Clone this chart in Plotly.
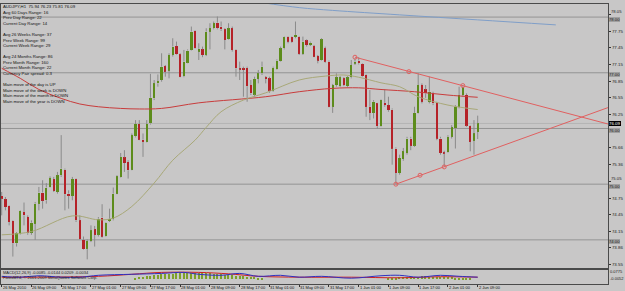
import plotly.graph_objects as go

# ---------------- DATA ----------------
opens = [74.79,74.73,74.61,74.34,73.94,74.10,74.50,74.41,74.13,74.29,74.65,74.85,74.71,74.95,75.09,74.86,75.16,75.26,74.83,74.79,
         75.09,74.35,74.00,73.84,73.98,74.19,74.09,74.40,74.07,74.34,74.37,74.83,75.13,75.48,75.40,75.26,75.86,76.08,75.80,75.76,
         76.09,76.54,76.81,76.87,77.12,77.04,77.32,77.48,77.33,76.94,77.18,77.41,77.75,77.38,77.42,77.32,77.74,77.80,77.90,77.83,
         77.78,77.60,77.80,77.41,77.08,77.08,77.09,76.78,76.61,76.89,76.99,76.92,76.90,76.68,77.06,77.21,77.44,77.65,77.64,77.64,
         77.65,77.34,77.58,77.50,77.48,77.30,77.23,77.44,77.20,76.39,76.78,76.76,76.90,76.76,76.92,77.17,77.22,77.16,76.96,76.39,
         76.28,76.45,76.04,76.46,76.42,76.34,75.64,75.20,75.45,75.56,75.82,75.69,76.28,76.78,76.70,76.48,76.63,76.46,75.82,75.57,
         75.57,75.85,76.00,76.39,76.60,76.60,76.05,75.78,75.94]
highs = [74.86,74.77,74.62,74.35,74.14,74.53,74.67,74.44,74.35,74.68,74.95,75.07,75.02,75.14,75.13,75.22,75.88,75.28,74.89,75.13,
         75.10,74.44,74.06,74.01,74.26,74.25,74.41,74.64,74.32,74.56,74.94,75.16,75.56,75.61,75.43,75.91,76.15,76.15,75.91,76.15,
         76.98,76.87,76.97,77.35,77.14,77.35,77.62,77.56,77.35,77.41,77.42,77.83,77.76,77.53,77.47,77.80,77.89,77.92,78.01,77.92,
         77.80,77.89,77.83,77.42,77.20,77.11,77.11,76.87,76.93,77.05,77.20,76.94,76.93,77.11,77.24,77.47,77.65,77.66,77.65,77.92,
         77.66,77.65,77.60,77.56,77.50,77.32,77.62,77.47,77.22,76.80,76.99,76.94,76.92,76.94,77.23,77.26,77.28,77.17,76.97,76.69,
         76.51,76.46,76.52,76.70,76.57,76.36,75.66,75.53,75.65,75.85,75.85,76.39,76.99,76.81,76.78,76.93,76.66,76.48,75.85,75.60,
         75.88,76.06,76.42,76.75,76.78,76.63,76.06,76.15,76.23]
lows = [74.44,74.53,74.26,73.70,73.88,74.09,74.26,74.09,74.09,74.00,74.53,74.56,74.65,74.94,74.86,74.83,75.13,74.53,74.56,74.71,
        74.32,74.00,73.82,73.65,73.96,73.88,74.06,74.04,74.06,74.32,74.35,74.82,75.12,75.22,75.10,75.25,75.84,75.79,75.49,75.75,
        76.07,76.51,76.75,76.84,76.93,76.90,77.29,77.32,76.92,76.92,77.17,77.40,77.43,77.23,77.28,77.30,77.42,77.78,77.78,77.75,
        77.42,77.59,77.38,76.93,76.87,76.57,76.48,76.60,76.57,76.81,76.96,76.81,76.64,76.66,77.05,77.20,77.42,77.53,77.54,77.62,
        77.32,77.32,77.47,77.48,77.28,77.17,77.22,77.18,76.38,76.28,76.75,76.74,76.76,76.74,76.90,77.14,77.15,76.93,76.21,76.15,
        76.18,76.00,76.03,76.39,76.30,75.35,75.00,75.17,75.42,75.53,75.61,75.67,76.27,76.45,76.55,76.45,76.42,75.79,75.53,75.32,
        75.56,75.82,75.64,76.36,76.57,76.03,75.59,75.53,75.81]
closes = [74.74,74.59,74.32,73.94,74.12,74.52,74.44,74.12,74.31,74.65,74.85,74.70,74.94,75.11,74.88,75.16,75.28,74.82,74.79,75.09,
          74.35,74.01,73.83,73.98,74.17,74.09,74.38,74.06,74.31,74.38,74.83,75.14,75.49,75.38,75.25,75.88,76.08,75.80,75.76,76.08,
          76.55,76.81,76.85,77.11,77.02,77.32,77.47,77.33,76.93,77.20,77.40,77.74,77.44,77.43,77.32,77.74,77.80,77.89,77.80,77.78,
          77.59,77.80,77.41,77.08,77.06,77.05,76.76,76.63,76.89,76.99,77.11,76.89,76.68,77.09,77.22,77.44,77.64,77.56,77.56,77.68,
          77.34,77.56,77.50,77.54,77.29,77.22,77.60,77.20,76.39,76.78,76.92,76.92,76.78,76.92,77.14,77.20,77.17,76.94,76.39,76.28,
          76.48,76.04,76.51,76.42,76.33,75.64,75.20,75.47,75.59,75.82,75.69,76.28,76.78,76.48,76.63,76.66,76.45,75.82,75.56,75.55,
          75.85,76.02,76.39,76.60,76.75,76.05,75.76,75.91,76.09]

# moving averages (bar index, price)
olive_bars = [0, 8, 19, 26, 30, 35, 41, 46, 52, 55, 59, 65, 71, 80, 87, 92, 96, 102, 107, 112, 120, 128]
olive_vals = [74.09, 74.15, 74.43, 74.36, 74.39, 74.60, 75.02, 75.43, 75.79, 76.02, 76.30, 76.51, 76.64, 76.87, 76.94, 76.96, 76.92, 76.82, 76.75, 76.57, 76.42, 76.34]
red_bars = [0, 5, 10, 16, 21, 26, 32, 37, 43, 53, 71, 80, 89, 96, 102, 111, 120, 128]
red_vals = [77.08, 76.90, 76.70, 76.54, 76.44, 76.39, 76.36, 76.35, 76.36, 76.46, 76.57, 76.66, 76.72, 76.73, 76.70, 76.66, 76.60, 76.56]
blue_bars = [70, 80, 89, 107, 128, 149]
blue_vals = [78.26, 78.17, 78.12, 78.04, 77.95, 77.86]

# trend lines (bar index, price)
upper_line = [(95, 77.28), (163.04, 76.08)]
upper_marks = [(95, 77.28), (109.5, 77.02), (124, 76.77)]
lower_line = [(106, 75.00), (163.04, 76.375)]
lower_marks = [(106, 75.00), (112.5, 75.16), (119, 75.31)]

level_lines = [78.0, 77.0, 76.0, 75.0, 74.0]
bid_price = 76.09

price_ticks = [78.05, 77.75, 77.45, 77.15, 76.85, 76.55, 76.25, 75.66, 75.36, 75.05, 74.75, 74.45, 74.15, 73.86, 73.55]
time_tick_bars = [0, 8, 16, 24, 32, 40, 48, 56, 64, 72, 80, 88, 96, 104, 112, 120, 128]
time_tick_text = ["26 May 2010", "26 May 09:00", "26 May 17:00", "27 May 01:00", "27 May 09:00", "27 May 17:00",
                  "28 May 01:00", "28 May 09:00", "28 May 17:00", "31 May 01:00", "31 May 09:00", "31 May 17:00",
                  "1 Jun 01:00", "1 Jun 09:00", "1 Jun 17:00", "2 Jun 01:00", "2 Jun 09:00"]

# sub-window indicator
sub_red_bars = [0, 8, 26, 35, 43, 53, 61, 69, 80, 94, 107, 118, 128]
sub_red_vals = [0.47, 0.47, 0.53, 0.67, 0.80, 0.80, 0.70, 0.53, 0.47, 0.47, 0.43, 0.50, 0.47]
sub_blue_bars = [0, 5, 10, 16, 21, 26, 35, 43, 49, 53, 59, 64, 69, 75, 80, 86, 94, 102, 107, 112, 118, 123, 128]
sub_blue_vals = [0.53, 0.47, 0.57, 0.47, 0.47, 0.60, 0.67, 0.73, 0.80, 0.67, 0.60, 0.73, 0.53, 0.60, 0.47, 0.53, 0.40, 0.57, 0.60, 0.47, 0.60, 0.53, 0.47]
hist_bars = list(range(36, 71)) + list(range(104, 127))
hist_vals = [0.45,0.50,0.55,0.60,0.62,0.65,0.68,0.70,0.72,0.74,0.75,0.76,0.78,0.80,0.80,0.80,0.80,0.79,0.78,0.77,
             0.76,0.74,0.72,0.70,0.68,0.66,0.64,0.62,0.60,0.58,0.55,0.52,0.50,0.47,0.45,
             0.45,0.47,0.48,0.50,0.50,0.52,0.53,0.55,0.55,0.56,0.56,0.55,0.55,0.54,0.53,0.52,0.50,0.50,0.48,0.47,0.46,0.45,0.44]
hist_base = 0.35

info_lines = ["AUDJPY,H1  75.94 76.23 75.81 76.09", "Avg 60 Days Range: 16", "Prev Day Range: 22", "Current Day Range: 14", "",
              "Avg 26 Weeks Range: 37", "Prev Week Range: 99", "Current Week Range: 29", "",
              "Avg 24 Months Range: 86", "Prev Month Range: 160", "Current Month Range: 22", "Currency Pair spread: 0.3", "",
              "Main move of the day is UP", "Main move of the week is DOWN", "Main move of the month is DOWN", "Main move of the year is DOWN"]
sub_legend = ["MACD(12,26,9) -0.0085 -0.0144 0.0209 -0.0034", "ForexMT4, \u00a9 2001-2009 MetaQuotes Software Corp."]
sub_axis_labels = ["0.0775", "-0.0052"]

# ---------------- FIGURE ----------------
W, H = 625, 291
ML, MR, MT, MB = 1, 17, 4, 7
PH = H - MT - MB
XR = [-0.188, 163.04]
YR = [73.50, 78.235]
BG = "#c8c7c7"
FONT = "Liberation Sans"

n = len(opens)
idx = list(range(n))

fig = go.Figure()

# wicks (split around body)
wx, wy = [], []
for i in idx:
    top = max(opens[i], closes[i]); bot = min(opens[i], closes[i])
    wx += [i, i, None, i, i, None]
    wy += [highs[i], top, None, bot, lows[i], None]
fig.add_trace(go.Scatter(x=wx, y=wy, mode="lines", line=dict(color="#8a8a8a", width=1),
                         hoverinfo="skip", showlegend=False, xaxis="x", yaxis="y"))

up = [i for i in idx if closes[i] >= opens[i]]
dn = [i for i in idx if closes[i] < opens[i]]
for sel, col in ((up, "#5d8c1c"), (dn, "#b52228")):
    fig.add_trace(go.Bar(x=sel,
                         y=[max(abs(closes[i] - opens[i]), 0.012) for i in sel],
                         base=[min(opens[i], closes[i]) for i in sel],
                         width=0.62, marker=dict(color=col, line=dict(width=0)),
                         showlegend=False, xaxis="x", yaxis="y"))

# moving averages
fig.add_trace(go.Scatter(x=red_bars, y=red_vals, mode="lines", line=dict(color="#c83c3c", width=1, shape="spline"),
                         showlegend=False, xaxis="x", yaxis="y"))
fig.add_trace(go.Scatter(x=olive_bars, y=olive_vals, mode="lines", line=dict(color="#a8a878", width=1, shape="spline"),
                         showlegend=False, xaxis="x", yaxis="y"))
fig.add_trace(go.Scatter(x=blue_bars, y=blue_vals, mode="lines", line=dict(color="#7f9ec8", width=1, shape="spline"),
                         showlegend=False, xaxis="x", yaxis="y"))

# trend lines
for ln, mk in ((upper_line, upper_marks), (lower_line, lower_marks)):
    fig.add_trace(go.Scatter(x=[p[0] for p in ln], y=[p[1] for p in ln], mode="lines",
                             line=dict(color="#e06060", width=1), showlegend=False, xaxis="x", yaxis="y"))
    fig.add_trace(go.Scatter(x=[p[0] for p in mk], y=[p[1] for p in mk], mode="markers",
                             marker=dict(symbol="circle-open", size=4, color="#e06060", line=dict(width=1)),
                             showlegend=False, xaxis="x", yaxis="y"))

# sub window
fig.add_trace(go.Bar(x=hist_bars, y=[v - hist_base for v in hist_vals], base=hist_base, width=0.35,
                     marker=dict(color="#7ea02a", line=dict(width=0)), showlegend=False, xaxis="x2", yaxis="y2"))
fig.add_trace(go.Scatter(x=sub_red_bars, y=sub_red_vals, mode="lines", line=dict(color="#d02020", width=1, shape="spline"),
                         showlegend=False, xaxis="x2", yaxis="y2"))
fig.add_trace(go.Scatter(x=sub_blue_bars, y=sub_blue_vals, mode="lines", line=dict(color="#3030c0", width=1, shape="spline"),
                         showlegend=False, xaxis="x2", yaxis="y2"))

shapes = []
for lv in level_lines:
    shapes.append(dict(type="line", xref="paper", yref="y", x0=0, x1=1, y0=lv, y1=lv,
                       line=dict(color="#949494", width=1), layer="below"))
shapes.append(dict(type="line", xref="paper", yref="y", x0=0, x1=1, y0=bid_price, y1=bid_price,
                   line=dict(color="#b4b4b4", width=1), layer="below"))

main_bottom = (H - MB - 267.7) / PH
sub_top = (H - MB - 269.5) / PH

def ann(**kw):
    kw.setdefault("showarrow", False)
    kw.setdefault("borderpad", 0)
    kw.setdefault("borderwidth", 0)
    return dict(**kw)

def near_level(v):
    return any(abs(v - lv) < 0.08 for lv in level_lines)

annotations = []
annotations.append(ann(xref="paper", yref="paper", x=0.004, y=1.0 + 0.5 / PH, xanchor="left", yanchor="top",
                       text="<br>".join(l if l else " " for l in info_lines), align="left",
                       font=dict(family=FONT, size=4.3, color="#111111")))
# tick labels that sit next to a level box are drawn nudged up so they stay readable
for v in price_ticks:
    if near_level(v):
        annotations.append(ann(xref="paper", yref="y", x=1.0, y=v, xanchor="left", yanchor="middle", xshift=3, yshift=2.5,
                               text=f"{v:.2f}", font=dict(family=FONT, size=4.2, color="#222")))
for lv in level_lines:
    annotations.append(ann(xref="paper", yref="y", x=1.0, y=lv, xanchor="left", yanchor="middle", xshift=1, yshift=-2,
                           text=f"{lv:.2f}", bgcolor="#a0a0a0",
                           font=dict(family=FONT, size=4.2, color="#222222")))
annotations.append(ann(xref="paper", yref="y", x=1.0, y=bid_price, xanchor="left", yanchor="middle", xshift=1,
                       text=f"{bid_price:.2f}", bgcolor="#000000",
                       font=dict(family=FONT, size=4.4, color="#ffffff")))
for tb, tt in zip(time_tick_bars, time_tick_text):
    annotations.append(ann(xref="x2", yref="paper", x=tb, y=-3.4 / PH, xanchor="left", yanchor="middle",
                           text=tt, xshift=1, font=dict(family=FONT, size=4.0, color="#111111")))
annotations.append(ann(xref="paper", yref="y2", x=0.004, y=0.95, xanchor="left", yanchor="top",
                       text="<br>".join(sub_legend), align="left",
                       font=dict(family=FONT, size=4.0, color="#202020")))
annotations.append(ann(xref="paper", yref="y2", x=1.0, y=0.88, xanchor="left", yanchor="middle", xshift=2,
                       text=sub_axis_labels[0], font=dict(family=FONT, size=4.0, color="#222")))
annotations.append(ann(xref="paper", yref="y2", x=1.0, y=0.35, xanchor="left", yanchor="middle", xshift=2,
                       text=sub_axis_labels[1], font=dict(family=FONT, size=4.0, color="#222")))

fig.update_layout(
    width=W, height=H, margin=dict(l=ML, r=MR, t=MT, b=MB),
    paper_bgcolor=BG, plot_bgcolor=BG, barmode="overlay", bargap=0,
    showlegend=False, shapes=shapes, annotations=annotations,
    xaxis=dict(domain=[0, 1], range=XR, anchor="y", showgrid=False, zeroline=False, showticklabels=False,
               showline=True, mirror=True, linecolor="#4a4a4a", linewidth=1, ticks=""),
    yaxis=dict(domain=[main_bottom, 1], range=YR, side="right", anchor="x", showgrid=False, zeroline=False,
               tickvals=price_ticks, ticktext=["" if near_level(v) else f"{v:.2f}" for v in price_ticks],
               ticks="outside", ticklen=2,
               tickcolor="#333", tickfont=dict(family=FONT, size=4.4, color="#222"),
               showline=True, mirror=True, linecolor="#4a4a4a", linewidth=1),
    xaxis2=dict(domain=[0, 1], range=XR, anchor="y2", showgrid=False, zeroline=False, showticklabels=False,
                tickvals=time_tick_bars, ticks="outside", ticklen=2, tickcolor="#333",
                showline=True, mirror=True, linecolor="#4a4a4a", linewidth=1),
    yaxis2=dict(domain=[0, sub_top], range=[0, 1], side="right", anchor="x2", showgrid=False, zeroline=False,
                showticklabels=False, ticks="", showline=True, mirror=True, linecolor="#4a4a4a", linewidth=1),
)

fig.write_html("out.html")
